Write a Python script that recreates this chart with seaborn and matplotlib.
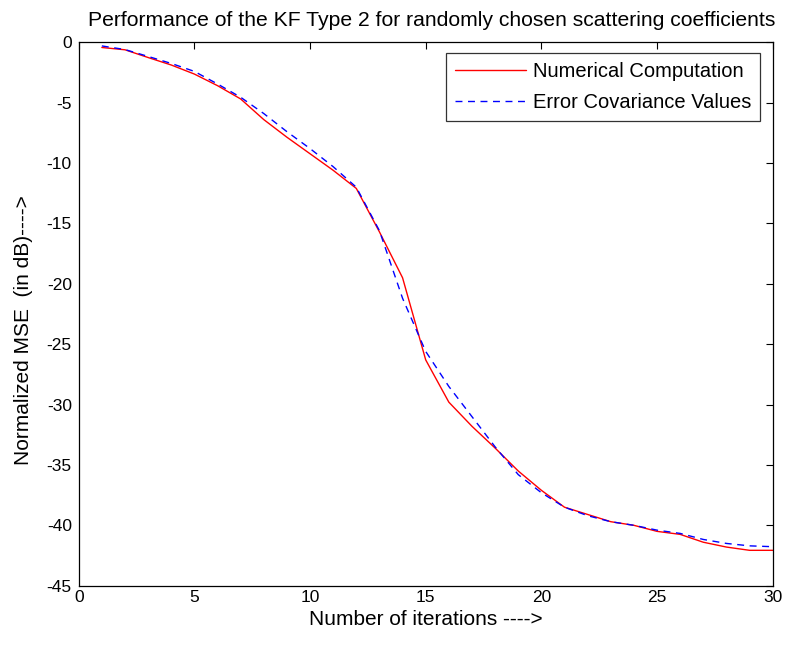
import matplotlib
matplotlib.use("Agg")
import matplotlib.pyplot as plt
import seaborn as sns
import pandas as pd

iterations = list(range(1, 31))
numerical = [-0.43, -0.62, -1.26, -1.88, -2.63, -3.59, -4.69, -6.4, -7.86, -9.23,
             -10.6, -12.1, -15.7, -19.5, -26.3, -29.8, -31.8, -33.6, -35.5, -37.1,
             -38.5, -39.1, -39.7, -40.0, -40.5, -40.75, -41.4, -41.8, -42.07, -42.07]
covariance = [-0.3, -0.6, -1.17, -1.75, -2.41, -3.45, -4.55, -5.9, -7.4, -8.8,
              -10.3, -12.0, -15.6, -21.2, -25.6, -28.5, -31.0, -33.5, -35.8, -37.3,
              -38.5, -39.2, -39.7, -40.0, -40.4, -40.67, -41.17, -41.5, -41.7, -41.77]
labels = ["Numerical Computation", "Error Covariance Values"]

sns.set_style("white")
plt.rcParams['font.family'] = ['Liberation Sans', 'DejaVu Sans']
plt.rcParams['axes.unicode_minus'] = False
plt.rcParams['text.color'] = 'black'
plt.rcParams['axes.labelcolor'] = 'black'

df = pd.DataFrame({"x": iterations + iterations,
                   "y": numerical + covariance,
                   "series": [labels[0]] * 30 + [labels[1]] * 30})

fig = plt.figure(figsize=(7.87, 6.46), dpi=100)
ax = fig.add_axes([78.7 / 787, 1 - 585.7 / 646, (772.7 - 78.7) / 787, (585.7 - 42.3) / 646])

sns.lineplot(data=df[df.series == labels[0]], x="x", y="y", color="red", lw=1.0,
             label=labels[0], ax=ax)
sns.lineplot(data=df[df.series == labels[1]], x="x", y="y", color="blue", lw=1.0,
             linestyle=(0, (5, 4)), label=labels[1], ax=ax)

ax.set_xlim(0, 30)
ax.set_ylim(-45, 0)
ax.set_xticks(range(0, 31, 5))
ax.set_yticks(range(-45, 1, 5))
ax.tick_params(direction="in", top=True, right=True, length=5, width=0.8,
               labelsize=12.5, colors="black")
ax.tick_params(axis="x", pad=3)
ax.tick_params(axis="y", pad=5)
for s in ax.spines.values():
    s.set_color("black")
    s.set_linewidth(0.9)
ax.set_xlabel("Number of iterations ---->", fontsize=15, labelpad=4)
ax.set_ylabel("Normalized MSE  (in dB)---->", fontsize=15, labelpad=11)
ax.yaxis.set_label_coords(-0.066, 0.47)
ax.set_title("Performance of the KF Type 2 for randomly chosen scattering coefficients",
             fontsize=15.2, pad=12)
ax.title.set_position((0.508, 1.0))

leg = ax.legend(loc="upper right", bbox_to_anchor=(0.9817, 0.980), fontsize=14.5,
                frameon=True, fancybox=False, handlelength=3.5, handletextpad=0.35,
                borderaxespad=0, edgecolor="black", borderpad=0.45, labelspacing=0.6)
leg.get_frame().set_linewidth(0.9)

fig.savefig("out.png", dpi=100)
